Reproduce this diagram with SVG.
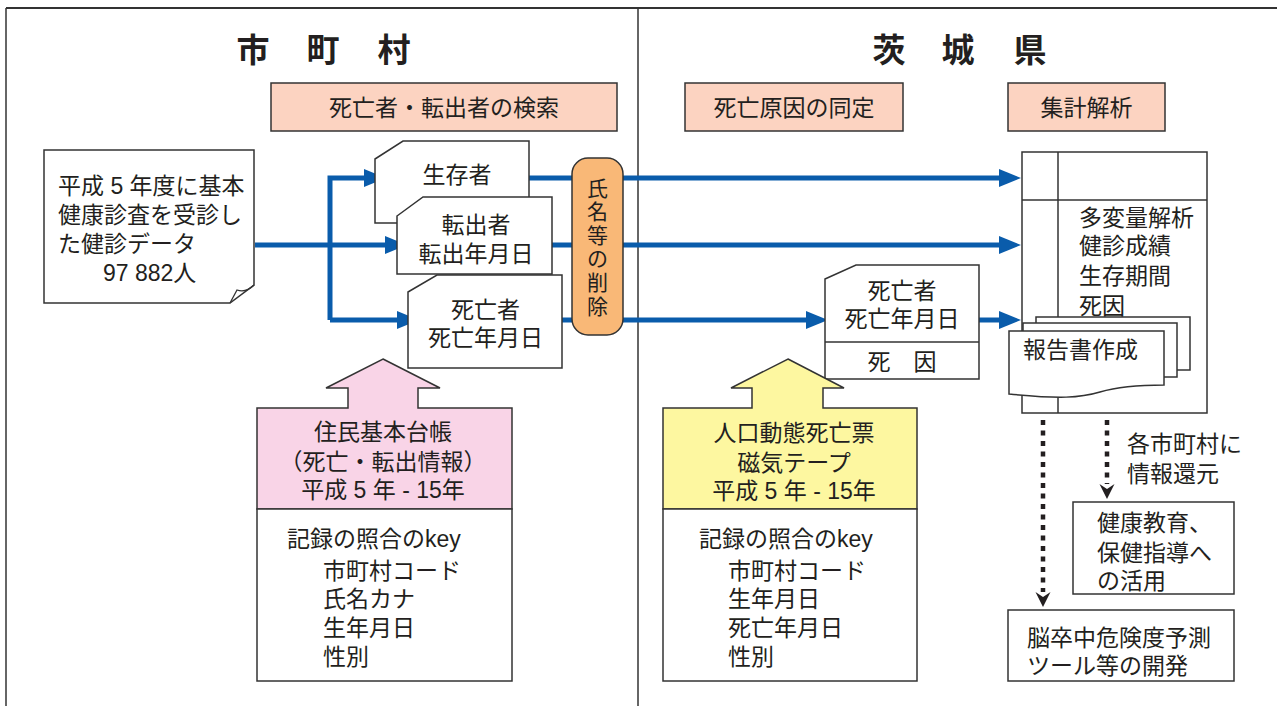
<svg xmlns="http://www.w3.org/2000/svg" width="1277" height="706" viewBox="0 0 1277 706">
<style>
text{font-family:"Liberation Sans","Noto Sans CJK JP",sans-serif;font-size:23px;fill:#231f20}
.title{font-size:33px;font-weight:bold;text-anchor:middle}
.mid{text-anchor:middle}
.pill{font-size:21px;text-anchor:middle}
.box{fill:#fcd3c1;stroke:#333;stroke-width:1.5}
.w{fill:#fff;stroke:#333;stroke-width:1.5}
.blue{fill:none;stroke:#0a5cab;stroke-width:5}
.dot{fill:none;stroke:#231f20;stroke-width:4.5;stroke-dasharray:5 5.5}
</style>
<defs>
<marker id="ah" markerUnits="userSpaceOnUse" markerWidth="22" markerHeight="18" refX="2" refY="9" orient="auto">
<path d="M0,0 L22,9 L0,18 Z" fill="#0a5cab"/>
</marker>
</defs>

<g id="frame">
<line x1="6" y1="8" x2="1277" y2="8" stroke="#333" stroke-width="2"/>
<line x1="6" y1="8" x2="6" y2="706" stroke="#333" stroke-width="1.5"/>
<line x1="638" y1="8" x2="638" y2="706" stroke="#333" stroke-width="1.5"/>
</g>

<g id="titles">
<text class="title" x="253" y="62">市</text>
<text class="title" x="323" y="62">町</text>
<text class="title" x="394" y="62">村</text>
<text class="title" x="889" y="62">茨</text>
<text class="title" x="958" y="62">城</text>
<text class="title" x="1030" y="62">県</text>
</g>

<g id="label-search">
<rect class="box" x="271" y="83" width="346" height="48"/>
<text class="mid" x="444" y="116">死亡者・転出者の検索</text>
</g>
<g id="label-cause">
<rect class="box" x="685" y="83" width="218" height="48"/>
<text class="mid" x="794" y="116">死亡原因の同定</text>
</g>
<g id="label-analysis">
<rect class="box" x="1008" y="83" width="157" height="48"/>
<text class="mid" x="1086.5" y="116">集計解析</text>
</g>

<g id="connectors">
<path class="blue" d="M255,245 H387" marker-end="url(#ah)"/>
<path class="blue" d="M330,320 V178 H366" marker-end="url(#ah)"/>
<path class="blue" d="M330,320 H399" marker-end="url(#ah)"/>
<path class="blue" d="M529,178 H1001" marker-end="url(#ah)"/>
<path class="blue" d="M552,245 H1001" marker-end="url(#ah)"/>
<path class="blue" d="M562,320 H808" marker-end="url(#ah)"/>
<path class="blue" d="M979,320 H1001" marker-end="url(#ah)"/>
<path class="dot" d="M1043,420 V592"/>
<path d="M1035.5,592 L1043,597 L1050.5,592 L1043,607 Z" fill="#231f20"/>
<path class="dot" d="M1107,420 V484"/>
<path d="M1099.5,484 L1107,489 L1114.5,484 L1107,499 Z" fill="#231f20"/>
</g>

<g id="source-data">
<path class="w" d="M44,150 H254 V285 Q242,294 230,303 H44 Z"/>
<path fill="none" stroke="#333" stroke-width="1.3" d="M230,303 L237,290 Q246,293 254,285"/>
<text><tspan x="58" y="194">平成 5 年度に基本</tspan><tspan x="58" y="223">健康診査を受診し</tspan><tspan x="58" y="252">た健診データ</tspan><tspan x="103" y="281">97 882人</tspan></text>
</g>

<g id="card-survivor">
<path class="w" d="M375,159 L403,141 H529 V223 H375 Z"/>
<text class="mid" x="457" y="183">生存者</text>
</g>
<g id="card-moved">
<path class="w" d="M397,216 L423,197 H552 V274 H397 Z"/>
<text class="mid"><tspan x="476" y="233">転出者</tspan><tspan x="476" y="262">転出年月日</tspan></text>
</g>
<g id="card-dead">
<path class="w" d="M408,292 L437,275 H562 V368 H408 Z"/>
<text class="mid"><tspan x="485.5" y="318">死亡者</tspan><tspan x="485.5" y="346">死亡年月日</tspan></text>
</g>

<g id="name-removal">
<rect x="572" y="158" width="51" height="177" rx="16" fill="#f9b877" stroke="#333" stroke-width="1.5"/>
<text class="pill"><tspan x="597.5" y="195.5">氏</tspan><tspan x="597.5" y="219.1">名</tspan><tspan x="597.5" y="242.7">等</tspan><tspan x="597.5" y="266.3">の</tspan><tspan x="597.5" y="289.9">削</tspan><tspan x="597.5" y="313.5">除</tspan></text>
</g>

<g id="card-cause">
<path class="w" d="M825,279 L856,265 H979 V379 H825 Z"/>
<line x1="825" y1="342" x2="979" y2="342" stroke="#333" stroke-width="1.5"/>
<text class="mid"><tspan x="902" y="298.5">死亡者</tspan><tspan x="902" y="326.5">死亡年月日</tspan></text>
<text class="mid" x="902" y="369.5">死　因</text>
</g>

<g id="analysis-table">
<rect class="w" x="1022" y="152" width="185" height="261"/>
<line x1="1058" y1="152" x2="1058" y2="413" stroke="#333" stroke-width="1.5"/>
<line x1="1022" y1="200" x2="1207" y2="200" stroke="#333" stroke-width="1.5"/>
<text><tspan x="1079" y="225.5">多変量解析</tspan><tspan x="1079" y="253.5">健診成績</tspan><tspan x="1079" y="283.5">生存期間</tspan><tspan x="1079" y="313.5">死因</tspan></text>
</g>

<g id="report">
<rect class="w" x="1036" y="317" width="154" height="53"/>
<rect class="w" x="1023" y="323" width="154" height="54"/>
<path class="w" d="M1009,331 H1164 V385 C1140,385 1120,386 1100,392 C1080,398 1060,399 1009,394 Z"/>
<text x="1023" y="357.5">報告書作成</text>
</g>

<g id="feedback-label">
<text><tspan x="1127" y="451.5">各市町村に</tspan><tspan x="1127" y="481.5">情報還元</tspan></text>
</g>

<g id="health-education">
<rect class="w" x="1073" y="502" width="161" height="92"/>
<text><tspan x="1097" y="530.5">健康教育、</tspan><tspan x="1097" y="560.5">保健指導へ</tspan><tspan x="1097" y="588.5">の活用</tspan></text>
</g>

<g id="stroke-tool">
<rect class="w" x="1008" y="610" width="226" height="71"/>
<text><tspan x="1027" y="645.5">脳卒中危険度予測</tspan><tspan x="1027" y="673.5">ツール等の開発</tspan></text>
</g>

<g id="resident-register">
<path d="M383,359 L440,388 H418 V408 H512 V509 H257 V408 H348 V388 H326 Z" fill="#f9d4e7" stroke="#333" stroke-width="1.5"/>
<text class="mid"><tspan x="383" y="439.5">住民基本台帳</tspan><tspan x="383" y="469.5">（死亡・転出情報）</tspan><tspan x="383" y="497.5">平成 5 年 - 15年</tspan></text>
<rect class="w" x="257" y="509" width="255" height="172"/>
<text><tspan x="287" y="546.5">記録の照合のkey</tspan><tspan x="323" y="578.5">市町村コード</tspan><tspan x="323" y="606.5">氏名カナ</tspan><tspan x="323" y="635.5">生年月日</tspan><tspan x="323" y="664.5">性別</tspan></text>
</g>

<g id="vital-statistics">
<path d="M788,359 L844,388 H823 V408 H917 V509 H663 V408 H752 V388 H731 Z" fill="#fdf7a0" stroke="#333" stroke-width="1.5"/>
<text class="mid"><tspan x="794" y="440.5">人口動態死亡票</tspan><tspan x="794" y="470.5">磁気テープ</tspan><tspan x="794" y="498.5">平成 5 年 - 15年</tspan></text>
<rect class="w" x="663" y="509" width="254" height="172"/>
<text><tspan x="699" y="546.5">記録の照合のkey</tspan><tspan x="728" y="578.5">市町村コード</tspan><tspan x="728" y="606.5">生年月日</tspan><tspan x="728" y="635.5">死亡年月日</tspan><tspan x="728" y="664.5">性別</tspan></text>
</g>
</svg>
